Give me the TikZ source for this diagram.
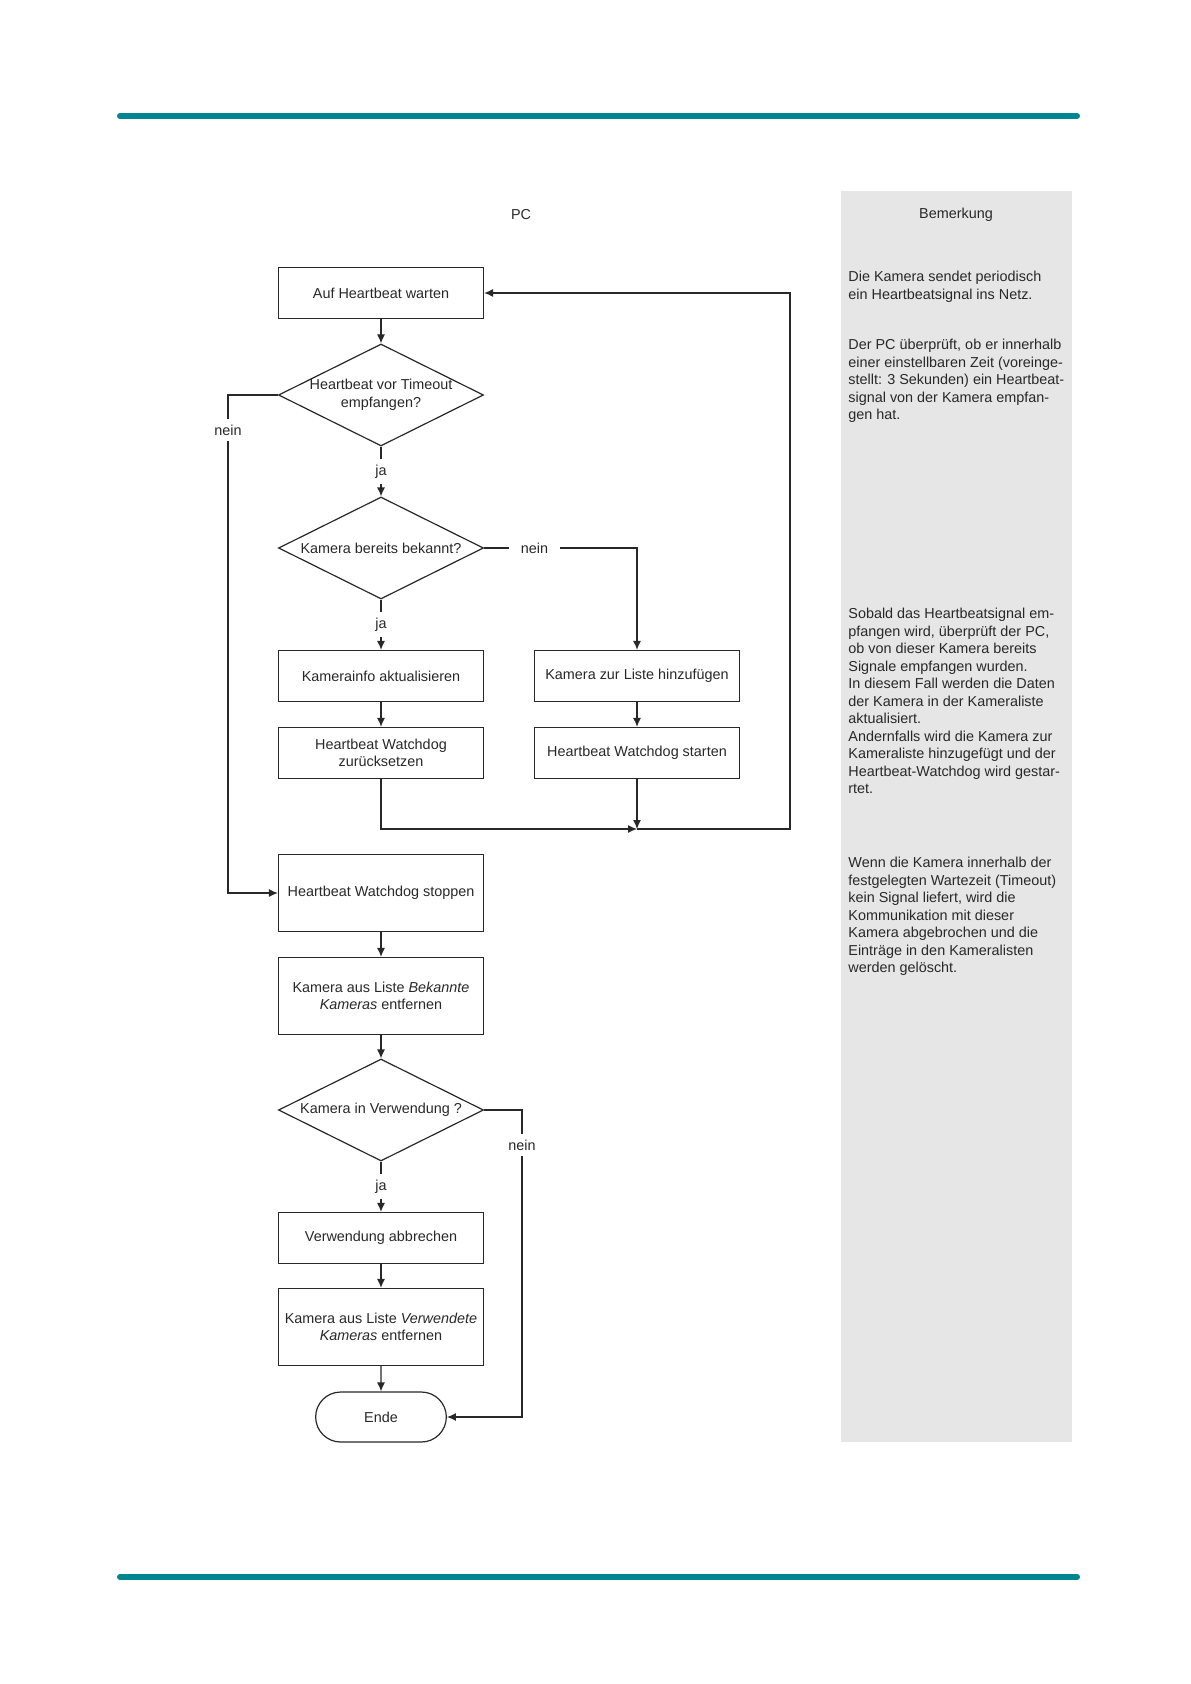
\documentclass[tikz,border=0pt]{standalone}
\usepackage{fontspec}
\setmainfont{Liberation Sans}
\usetikzlibrary{shapes.geometric,shapes.misc,arrows.meta}
\definecolor{teal1}{RGB}{0,134,145}
\definecolor{panel}{RGB}{230,230,230}
\definecolor{ink}{RGB}{40,40,40}
\begin{document}
\begin{tikzpicture}[x=0.5pt,y=-0.5pt,
  ff/.style={font=\fontsize{7.2}{8.75}\selectfont},
  box/.style={draw=ink, line width=0.6pt, minimum width=102.5pt, minimum height=25.5pt, inner sep=1pt, align=center, text=ink, ff},
  tall/.style={box, minimum height=38.5pt},
  dia/.style={draw=ink, line width=0.6pt, diamond, minimum width=102.5pt, minimum height=51pt, inner sep=0pt},
  dtxt/.style={ff, align=center, text=ink},
  term/.style={draw=ink, line width=0.6pt, rounded rectangle, minimum width=72pt, minimum height=25pt, text=ink, ff},
  arr/.style={draw=ink, line width=0.6pt, -{Latex[length=4.5pt,width=4pt]}},
  lbl/.style={fill=white, text=ink, ff, inner xsep=2pt, inner ysep=3pt},
  note/.style={anchor=north west, align=left, inner sep=0pt, text=ink, ff},
  rulebar/.style={draw=teal1, line width=3pt, line cap=round}
]
\useasboundingbox (0,0) rectangle (1190,1684);
% page rules and panel
\draw[rulebar] (120,116) -- (1077,116);
\draw[rulebar] (120,1577) -- (1077,1577);
\fill[panel] (841,191) rectangle (1072,1442);

% headers
\node[ff,text=ink] (pc) at (521,215) {PC};
\node[ff,text=ink] (bem) at (956,215) {Bemerkung};

% flowchart nodes
\node[box] (b1) at (381,293) {Auf Heartbeat warten};
\node[dia, label={[dtxt]center:{Heartbeat vor Timeout\\empfangen?}}] (d1) at (381,395) {};
\node[dia, label={[dtxt]center:{Kamera bereits bekannt?}}] (d2) at (381,548) {};
\node[box] (b3) at (381,676) {Kamerainfo aktualisieren};
\node[box] (b4) at (637,676) {Kamera zur Liste hinzufügen};
\node[box] (b5) at (381,753) {Heartbeat Watchdog\\zurücksetzen};
\node[box] (b6) at (637,753) {Heartbeat Watchdog starten};
\node[tall] (b7) at (381,893) {Heartbeat Watchdog stoppen};
\node[tall] (b8) at (381,996) {Kamera aus Liste \textit{Bekannte}\\\textit{Kameras} entfernen};
\node[dia, label={[dtxt]center:{Kamera in Verwendung ?}}] (d3) at (381,1110) {};
\node[box] (b9) at (381,1238) {Verwendung abbrechen};
\node[tall] (b10) at (381,1327) {Kamera aus Liste \textit{Verwendete}\\\textit{Kameras} entfernen};
\node[term] (end) at (381,1417) {Ende};

% connectors
\draw[arr] (b1) -- (d1);
\draw[arr] (d1) -- node[lbl] (ja1) {ja} (d2);
\draw[arr] (d2) -- node[lbl] (ja2) {ja} (b3);
\draw[arr] (d2.east) -- node[lbl, pos=0.33, inner xsep=6pt] (n2) {nein} (d2.east -| b4.north) -- (b4.north);
\draw[arr] (b3) -- (b5);
\draw[arr] (b4) -- (b6);
\coordinate (j) at (637,829);
\coordinate (r) at (790,829);
\draw[arr] (b5.south) |- (j);
\draw[arr] (b6.south) -- (j);
\draw[arr] (j) -- (r) |- (b1.east);
\coordinate (l) at (228,893);
\draw[arr] (d1.west) -| (l) -- (b7.west);
\node[lbl] (n1) at (228,430) {nein};
\draw[arr] (b7) -- (b8);
\draw[arr] (b8) -- (d3);
\draw[arr] (d3) -- node[lbl] (ja3) {ja} (b9);
\draw[arr] (b9) -- (b10);
\draw[arr] (b10) -- (end);
\coordinate (r3) at (522,1417);
\draw[arr] (d3.east) -| (r3) -- (end.east);
\node[lbl] (n3) at (522,1145) {nein};

% notes
\node[note] (p1) at (848,271) {Die Kamera sendet periodisch\\ein Heartbeatsignal ins Netz.};
\node[note] (p2) at (848,339) {Der PC überprüft, ob er innerhalb\\einer einstellbaren Zeit (voreinge-\\stellt: 3 Sekunden) ein Heartbeat-\\signal von der Kamera empfan-\\gen hat.};
\node[note] (p3) at (848,608) {Sobald das Heartbeatsignal em-\\pfangen wird, überprüft der PC,\\ob von dieser Kamera bereits\\Signale empfangen wurden.\\In diesem Fall werden die Daten\\der Kamera in der Kameraliste\\aktualisiert.\\Andernfalls wird die Kamera zur\\Kameraliste hinzugefügt und der\\Heartbeat-Watchdog wird gestar-\\rtet.};
\node[note] (p4) at (848,857) {Wenn die Kamera innerhalb der\\festgelegten Wartezeit (Timeout)\\kein Signal liefert, wird die\\Kommunikation mit dieser\\Kamera abgebrochen und die\\Einträge in den Kameralisten\\werden gelöscht.};
\end{tikzpicture}
\end{document}
